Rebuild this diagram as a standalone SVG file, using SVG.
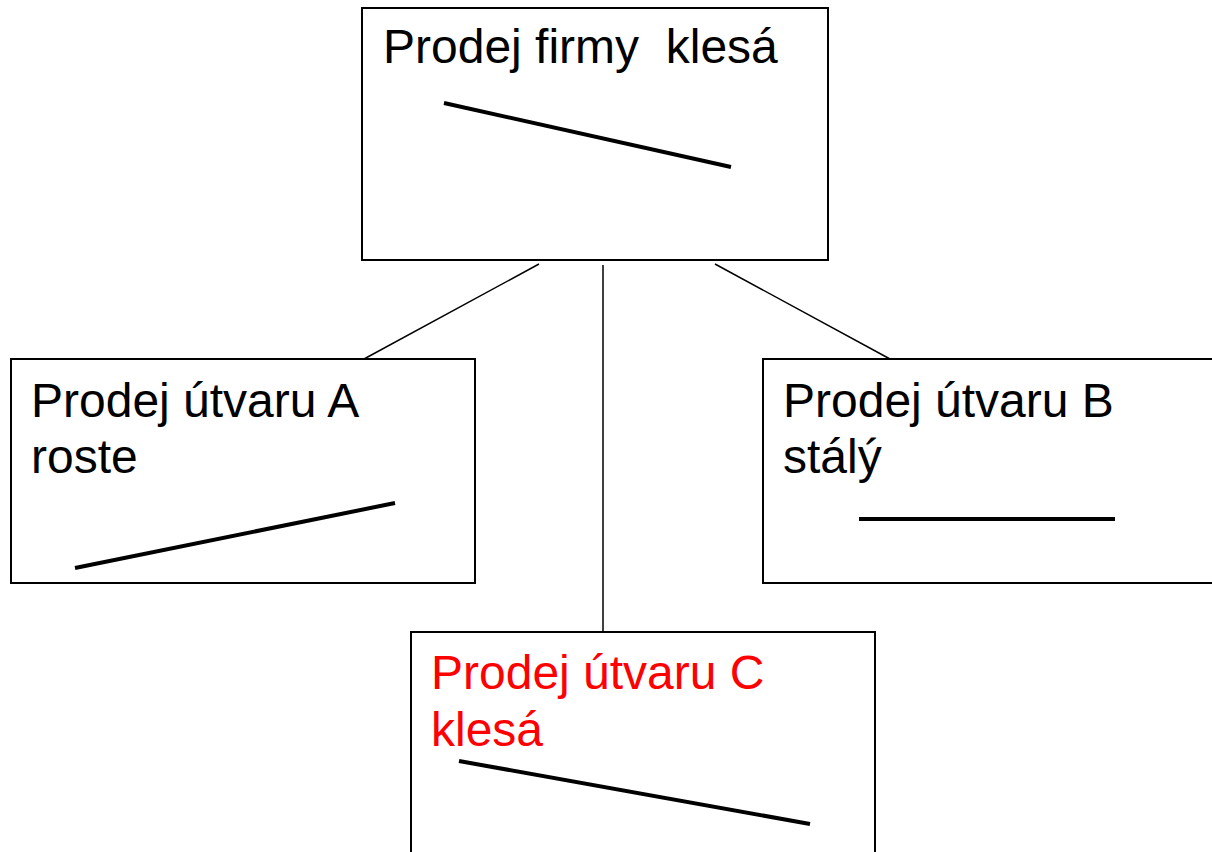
<svg xmlns="http://www.w3.org/2000/svg" width="1212" height="852" viewBox="0 0 1212 852">
<style>
.box{fill:#fff;stroke:#000;stroke-width:2}
.lbl{font-family:"Liberation Sans",Arial,sans-serif;font-size:48px;fill:#000;white-space:pre}
.red{fill:#ff0000}
.trend{stroke:#000;stroke-width:4;fill:none}
.conn{stroke:#000;stroke-width:1.5;fill:none}
</style>
<rect width="1212" height="852" fill="#fff"/>
<g id="connectors">
<line class="conn" x1="539" y1="264" x2="364" y2="359"/>
<line class="conn" x1="603" y1="265" x2="603" y2="632"/>
<line class="conn" x1="715" y1="264" x2="890" y2="359"/>
</g>
<g id="firm">
<rect class="box" x="362" y="8" width="466" height="252"/>
<text class="lbl" x="383" y="63" xml:space="preserve">Prodej firmy  klesá</text>
<line class="trend" x1="444" y1="103" x2="731" y2="167"/>
</g>
<g id="unitA">
<rect class="box" x="11" y="359" width="464" height="224"/>
<text class="lbl" x="31" y="417">Prodej útvaru A</text>
<text class="lbl" x="31" y="473">roste</text>
<line class="trend" x1="75" y1="568" x2="395" y2="503"/>
</g>
<g id="unitB">
<rect class="box" x="763" y="359" width="470" height="224"/>
<text class="lbl" x="783" y="417">Prodej útvaru B</text>
<text class="lbl" x="783" y="473">stálý</text>
<line class="trend" x1="859" y1="519" x2="1115" y2="519"/>
</g>
<g id="unitC">
<rect class="box" x="411" y="632" width="464" height="240"/>
<text class="lbl red" x="431" y="689">Prodej útvaru C</text>
<text class="lbl red" x="431" y="746">klesá</text>
<line class="trend" x1="459" y1="761" x2="810" y2="824"/>
</g>
</svg>
